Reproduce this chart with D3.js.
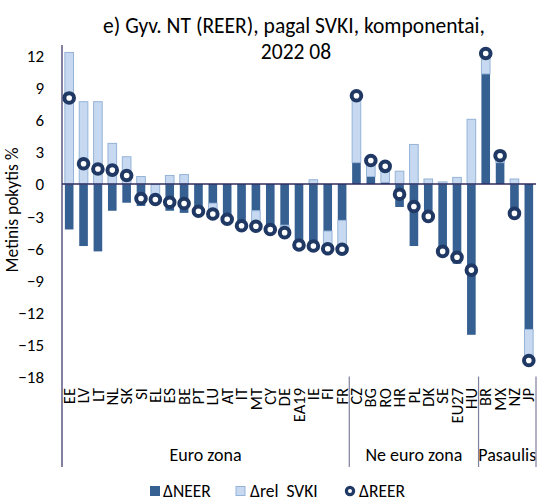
<!DOCTYPE html>
<html><head><meta charset="utf-8">
<script src="https://cdn.jsdelivr.net/npm/d3@7"></script>
<style>
body{margin:0;background:#fff;}
svg text{font-family:Carlito, Calibri, Lato, sans-serif;fill:#000;}
</style></head>
<body><svg id="c" width="538" height="501"></svg>
<script>
const categories = ["EE","LV","LT","NL","SK","SI","EL","ES","BE","PT","LU","AT","IT","MT","CY","DE","EA19","IE","FI","FR",
  "CZ","BG","RO","HR","PL","DK","SE","EU27","HU","BR","MX","NZ","JP"];
const groups = [
  {name:"Euro zona", from:"EE", to:"FR"},
  {name:"Ne euro zona", from:"CZ", to:"HU"},
  {name:"Pasaulis", from:"BR", to:"JP"}
];
const neer = [-4.25,-5.8,-6.3,-2.5,-1.75,-2.05,-0.05,-2.5,-2.7,-2.5,-1.8,-3.3,-3.9,-2.5,-4.1,-3.85,-5.7,-6.2,-4.4,-3.4,
  2.0,0.7,0.15,-2.15,-5.8,-3.5,-6.5,-7.45,-14.1,10.3,2.0,-3.2,-13.6];
const relSvki = [12.3,7.7,7.7,3.8,2.55,0.7,-1.4,0.8,0.88,-0.05,-1.0,0,0,-1.45,-0.15,-0.7,0,0.4,-1.65,-2.7,
  6.25,1.5,1.5,1.2,3.7,0.47,0.2,0.62,6.05,1.9,0.65,0.47,-2.9];
const reer = [8.05,1.9,1.4,1.3,0.8,-1.35,-1.45,-1.7,-1.82,-2.55,-2.8,-3.3,-3.9,-3.95,-4.25,-4.55,-5.7,-5.8,-6.05,-6.1,
  8.25,2.2,1.65,-0.95,-2.1,-3.03,-6.3,-6.85,-8.05,12.2,2.65,-2.75,-16.5];
const yTicks = [-18,-15,-12,-9,-6,-3,0,3,6,9,12];
const titleLines = ["e) Gyv. NT (REER), pagal SVKI, komponentai,","2022 08"];
const yTitle = "Metinis pokytis %";
const legendLabels = ["\u0394NEER","\u0394rel  SVKI","\u0394REER"];

const DARK="#366092", LIGHT="#C6D9F1", LIGHT_STROKE="#95B3D7", NAVY="#1F3864", AXIS="#2F2D5E";
const FONT="Carlito, Calibri, Lato, sans-serif";
const svg = d3.select("#c");
const L=62, R=536, TOP=45, BOT=376.5;
const x = d3.scaleBand().domain(categories).range([L,R]).paddingInner(0.33).paddingOuter(0.165);
const y = d3.scaleLinear().domain([-18,13]).range([BOT,TOP]);

// stacked data
const table = categories.map((c,i)=>({cat:c, neer:neer[i], rel:relSvki[i], reer:reer[i]}));
const stack = d3.stack().keys(["neer","rel"]).offset(d3.stackOffsetDiverging)(table);
const fills = {neer:DARK, rel:LIGHT};
svg.append("g").selectAll("g").data(stack).join("g")
  .attr("fill", d=>fills[d.key])
  .attr("stroke", d=>d.key==="rel"?LIGHT_STROKE:"none")
  .attr("stroke-width",1)
  .selectAll("rect").data(d=>d).join("rect")
  .attr("x", d=>x(d.data.cat)+0.5)
  .attr("width", x.bandwidth()-1)
  .attr("y", d=>y(Math.max(d[0],d[1])))
  .attr("height", d=>Math.abs(y(d[0])-y(d[1])));

// zero line
svg.append("line").attr("x1",L).attr("x2",R).attr("y1",y(0)).attr("y2",y(0))
  .attr("stroke",AXIS).attr("stroke-width",1.3);

// REER markers
svg.append("g").selectAll("circle").data(table).join("circle")
  .attr("cx", d=>x(d.cat)+x.bandwidth()/2)
  .attr("cy", d=>y(d.reer))
  .attr("r",4.8).attr("fill","#fff").attr("stroke",NAVY).attr("stroke-width",4);

// y axis
const yAxis = d3.axisLeft(y).tickValues(yTicks).tickSize(0).tickPadding(0).tickFormat(d3.format("d"));
const ya = svg.append("g").attr("transform",`translate(44,0)`).call(yAxis);
ya.select(".domain").remove();
ya.selectAll("text").attr("font-size",17).attr("fill","#000").attr("dy","0.35em")
  .style("font-family",FONT);
svg.append("line").attr("x1",L).attr("x2",L).attr("y1",TOP).attr("y2",467)
  .attr("stroke",AXIS).attr("stroke-width",1.2);

// category labels
const xa = d3.axisBottom(x).tickSize(0).tickPadding(0);
const xg = svg.append("g").attr("transform",`translate(0,${BOT})`).call(xa);
xg.select(".domain").remove();
xg.selectAll(".tick text")
  .attr("transform","translate(0,11.5) rotate(-90)")
  .attr("text-anchor","end").attr("x",0).attr("y",0).attr("dy","0.34em")
  .attr("font-size",16.5).style("font-family",FONT).attr("fill","#000");

// group separators and labels
const step = x.step();
const edges = [];
groups.forEach(g=>{
  const x0 = x(g.from) - step*x.paddingInner()/2;
  const x1 = x(g.to) + x.bandwidth() + step*x.paddingInner()/2;
  edges.push(x1);
  svg.append("text").attr("x",(x0+x1)/2).attr("y",461).attr("text-anchor","middle")
    .attr("font-size",18).text(g.name);
});
svg.append("g").selectAll("line").data(edges).join("line")
  .attr("x1",d=>d).attr("x2",d=>d).attr("y1",BOT).attr("y2",467)
  .attr("stroke","#7F7FA0").attr("stroke-width",1.2);

// y title
svg.append("text").attr("transform","translate(18,210) rotate(-90)")
  .attr("text-anchor","middle").attr("font-size",17.5).text(yTitle);

// title
const t1 = svg.append("text").attr("x",294).attr("y",33).attr("text-anchor","middle").attr("font-size",18).text(titleLines[0]);
const w = t1.node().getComputedTextLength();
const fs = 18*382/w;
t1.attr("font-size",fs);
svg.append("text").attr("x",296).attr("y",59).attr("text-anchor","middle").attr("font-size",fs).text(titleLines[1]);

// legend
const lg = svg.append("g").attr("font-size",17.5);
lg.append("rect").attr("x",150).attr("y",486).attr("width",10).attr("height",10).attr("fill",DARK);
lg.append("text").attr("x",163).attr("y",496.5).text(legendLabels[0]);
lg.append("rect").attr("x",236).attr("y",486.5).attr("width",9).attr("height",9).attr("fill",LIGHT).attr("stroke",LIGHT_STROKE);
lg.append("text").attr("x",250).attr("y",496.5).attr("xml:space","preserve").style("white-space","pre").text(legendLabels[1]);
lg.append("circle").attr("cx",350).attr("cy",491).attr("r",3.6).attr("fill","#fff").attr("stroke",NAVY).attr("stroke-width",3.2);
lg.append("text").attr("x",359).attr("y",496.5).text(legendLabels[2]);
</script></body></html>
